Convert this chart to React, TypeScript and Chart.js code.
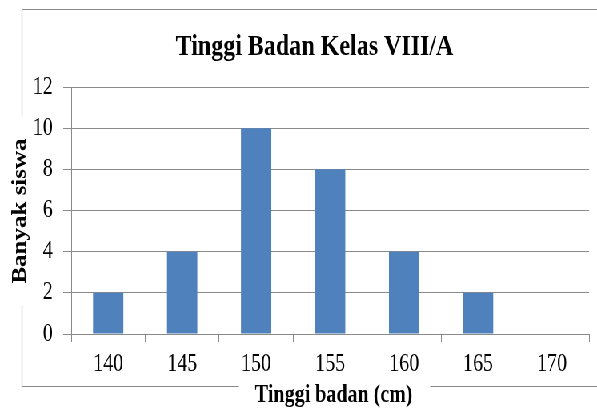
import React, { useEffect, useRef } from "react";
import { Chart, registerables } from "chart.js";

Chart.register(...registerables);

const categories = ["140", "145", "150", "155", "160", "165", "170"];
const values = [2, 4, 10, 8, 4, 2, 0];
const yTicks = [0, 2, 4, 6, 8, 10, 12];
const chartTitle = "Tinggi Badan Kelas VIII/A";
const xTitle = "Tinggi badan (cm)";
const yTitle = "Banyak siswa";

const SCALE = 0.8;
const W = 746;
const H = 410;
const SERIF = '"Liberation Serif", "Times New Roman", serif';
const GRID = "#8a8a8a";

const framePlugin = {
  id: "frameTitles",
  afterDraw(chart: any) {
    const ctx = chart.ctx;
    ctx.save();
    // main title
    ctx.fillStyle = "#000";
    ctx.font = `bold 30px ${SERIF}`;
    ctx.textAlign = "center";
    ctx.textBaseline = "alphabetic";
    ctx.fillText(chartTitle, 393, 55);

    ctx.font = `bold 25px ${SERIF}`;
    const xw = ctx.measureText(xTitle).width;
    const yw = ctx.measureText(yTitle).width;

    // frame
    ctx.strokeStyle = GRID;
    ctx.lineWidth = 1.2;
    const fx = 27.5;
    const fy = 9.5;
    const fb = 386.5;
    const yc = 211;
    const xc = 417;
    ctx.beginPath();
    ctx.moveTo(fx, fy);
    ctx.lineTo(W, fy);
    ctx.moveTo(fx, fy);
    ctx.lineTo(fx, yc - yw / 2 - 22);
    ctx.moveTo(fx, yc + yw / 2 + 22);
    ctx.lineTo(fx, fb);
    ctx.lineTo(xc - xw / 2 - 20, fb);
    ctx.moveTo(xc + xw / 2 + 22, fb);
    ctx.lineTo(W, fb);
    ctx.stroke();

    // axis titles
    ctx.fillStyle = "#000";
    ctx.textAlign = "center";
    ctx.textBaseline = "middle";
    ctx.fillText(xTitle, xc, 396);
    ctx.translate(26, yc);
    ctx.rotate(-Math.PI / 2);
    ctx.fillText(yTitle, 0, 0);
    ctx.restore();
  },
};

export default function App() {
  const ref = useRef<HTMLCanvasElement | null>(null);

  useEffect(() => {
    document.body.style.margin = "0";
    document.body.style.overflow = "hidden";
    const canvas = ref.current;
    if (!canvas) return;
    const chart = new Chart(canvas, {
      type: "bar",
      data: {
        labels: categories,
        datasets: [
          {
            data: values,
            backgroundColor: "#4f81bd",
            borderWidth: 0,
            barPercentage: 0.41,
            categoryPercentage: 1,
          },
        ],
      },
      options: {
        responsive: false,
        animation: false,
        devicePixelRatio: 1,
        layout: { padding: { top: 87, right: 10, bottom: 0, left: 0 } },
        plugins: {
          legend: { display: false },
          title: { display: false },
          tooltip: { enabled: false },
        },
        scales: {
          x: {
            offset: true,
            grid: {
              offset: true,
              display: true,
              drawOnChartArea: false,
              drawTicks: true,
              tickLength: 8,
              color: GRID,
            },
            border: { display: true, color: GRID },
            ticks: {
              color: "#000",
              font: { family: SERIF, size: 25 },
              padding: 7,
              maxRotation: 0,
            },
            afterFit(scale: any) {
              scale.height = H - 334;
            },
          },
          y: {
            min: 0,
            max: 12,
            afterBuildTicks(scale: any) {
              scale.ticks = yTicks.map((v) => ({ value: v }));
            },
            grid: {
              color: GRID,
              drawTicks: true,
              tickLength: 10,
            },
            border: { display: true, color: GRID },
            ticks: {
              color: "#000",
              font: { family: SERIF, size: 25 },
              padding: 13,
            },
            afterFit(scale: any) {
              scale.width = 89;
            },
          },
        },
      },
      plugins: [framePlugin],
    });
    return () => chart.destroy();
  }, []);

  return (
    <div
      style={{
        position: "fixed",
        left: 0,
        top: 0,
        width: W,
        height: H,
        transform: `scaleX(${597 / W})`,
        transformOrigin: "0 0",
        background: "#fff",
      }}
    >
      <canvas ref={ref} width={W} height={H} style={{ width: W, height: H, display: "block" }} />
    </div>
  );
}
